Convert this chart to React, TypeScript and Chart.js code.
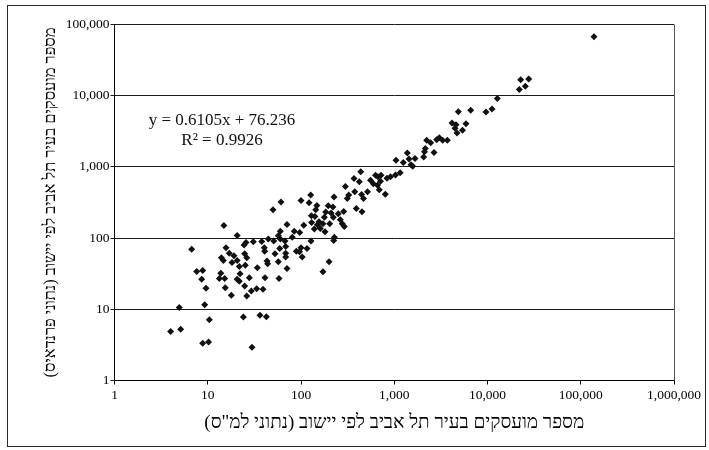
import React, { useEffect, useRef } from 'react';
import { Chart, registerables } from 'chart.js';

Chart.register(...registerables);

const xTickValues = [1, 10, 100, 1000, 10000, 100000, 1000000];
const yTickValues = [1, 10, 100, 1000, 10000, 100000];
const xTitle = 'מספר מועסקים בעיר תל אביב לפי יישוב (נתוני למ"ס)';
const yTitle = 'מספר מועסקים בעיר תל אביב לפי יישוב (נתוני פרנדאיס)';
const trendEquation = 'y = 0.6105x + 76.236';
const trendR2 = 'R² = 0.9926';

// x: employees per settlement (CBS data); y: employees per settlement (other source)
const employeesCbs = [
  14.9, 20.7, 6.73, 25.7, 30.8, 24.5, 15.7, 17.0, 19.1, 24.9, 14.0, 14.7, 18.2, 20.7, 26.2,
  25.3, 21.8, 34.0, 7.61, 8.83, 13.8, 22.2, 8.61, 13.3, 15.2, 20.7, 21.8, 27.9, 9.58, 15.4,
  24.9, 29.3, 33.5, 17.9, 26.2, 4.95, 9.27, 10.4, 24.1, 36.3, 4.0, 5.13, 8.83, 10.2, 29.8,
  37.9, 39.1, 40.4, 40.8, 41.1, 42.5, 43.2, 43.9, 44.6, 50.1, 51.0, 52.6, 57.1, 57.1, 58.1,
  59.1, 60.0, 60.0, 61.0, 67.4, 68.5, 68.5, 68.5, 70.8, 70.8, 80.6, 84.7, 89.1, 96.8, 96.4,
  100, 100, 103, 107, 116, 122, 127, 128, 130, 129, 139, 141, 144, 148, 150,
  156, 161, 172, 172, 178, 181, 184, 196, 200, 203, 210, 220, 222, 224, 228,
  226, 251, 264, 277, 287, 291,
  299, 314, 325, 370, 377, 392, 422, 437, 446, 468, 451, 517, 556, 596, 661,
  629, 669, 721, 712, 691, 802, 836, 912, 1031, 1158, 1044, 1250, 1380, 1439, 1669,
  1512, 1578, 2153, 2110, 2069, 2669, 2228, 2459, 2852, 3042, 3308, 3706, 4163, 4595, 4482,
  5880, 4710, 5395, 4864, 6603, 9636, 11180, 12740, 21930, 25430, 22700, 27660, 138700,
];
const employeesOther = [
  150, 109, 70.0, 86.7, 88.7, 79.7, 73.0, 61.5, 56.4, 60.1, 52.8, 48.4, 45.4, 48.4, 52.8,
  41.7, 39.9, 38.2, 33.9, 35.0, 32.2, 31.5, 26.5, 27.0, 27.0, 26.5, 24.8, 27.7, 19.8, 20.0,
  21.3, 18.0, 19.5, 15.8, 15.4, 10.6, 11.6, 7.16, 7.82, 8.26, 4.86, 5.25, 3.34, 3.48, 2.93,
  89.6, 19.2, 73.0, 65.6, 27.7, 7.89, 47.5, 43.5, 96.8, 250, 90.7, 60.1, 108, 46.4, 27.0,
  71.4, 125, 96.8, 321, 90.7, 76.2, 61.5, 54.1, 155, 37.4, 103, 125, 65.6, 120, 64.2,
  338, 73.0, 54.1, 152, 71.4, 314, 402, 90.7, 166, 206, 134, 201, 250, 287, 154,
  170, 136, 159, 33.6, 197, 123, 232, 285, 46.4, 159, 225, 273, 197, 92.5, 103,
  377, 220, 181, 159, 237, 146,
  532, 361, 402, 689, 448, 261, 619, 856, 410, 361, 234, 448, 650, 580, 553,
  764, 728, 764, 629, 478, 413, 694, 728, 769, 829, 1242, 1157, 1568, 1291, 1317,
  1074, 1023, 1820, 1636, 1378, 1599, 2358, 2190, 2413, 2575, 2358, 2374, 4144, 3922, 3502,
  4051, 2999, 3262, 5935, 6231, 5918, 6521, 9104, 12180, 13560, 16690, 17230, 67140,
];

const serif = '"Liberation Serif", "DejaVu Serif", serif';

const decorPlugin = {
  id: 'decor',
  beforeDraw(chart: any) {
    const { ctx, width, height } = chart;
    ctx.save();
    ctx.fillStyle = '#ffffff';
    ctx.fillRect(0, 0, width, height);
    ctx.restore();
  },
  afterDraw(chart: any) {
    const { ctx, chartArea } = chart;
    const { top, right, bottom } = chartArea;
    ctx.save();
    ctx.strokeStyle = '#2a2a2a';
    ctx.lineWidth = 1;
    ctx.strokeRect(7.5, 5.5, 698, 441);
    ctx.strokeStyle = '#555';
    const rx = Math.round(right) + 0.5;
    ctx.beginPath();
    ctx.moveTo(rx, top);
    ctx.lineTo(rx, bottom);
    ctx.stroke();
    ctx.fillStyle = '#111';
    ctx.font = '17px ' + serif;
    ctx.textAlign = 'center';
    ctx.textBaseline = 'middle';
    ctx.fillText(trendEquation, 222, 121);
    ctx.fillText(trendR2, 222, 141);
    ctx.restore();
  },
};

const fmt = (v: any) => Number(v).toLocaleString('en-US');

export default function App() {
  const ref = useRef<HTMLCanvasElement | null>(null);
  useEffect(() => {
    if (!ref.current) return;
    const points = employeesCbs.map((x, i) => ({ x, y: employeesOther[i] }));
    const chart = new Chart(ref.current, {
      type: 'scatter',
      data: {
        datasets: [
          {
            data: points,
            pointStyle: 'rectRot',
            pointRadius: 3.5,
            pointBackgroundColor: '#111',
            pointBorderWidth: 0,
            pointBorderColor: '#111',
          },
        ],
      },
      options: {
        animation: false,
        responsive: false,
        events: [],
        layout: { padding: { top: 24.5, right: 35, bottom: 0, left: 0 } },
        plugins: { legend: { display: false }, tooltip: { enabled: false } },
        scales: {
          x: {
            type: 'logarithmic',
            min: 1,
            max: 1000000,
            afterBuildTicks: (s: any) => {
              s.ticks = xTickValues.map((v) => ({ value: v }));
            },
            afterFit: (s: any) => {
              s.height = 69.5;
            },
            ticks: {
              callback: (v: any) => fmt(v),
              autoSkip: false,
              maxRotation: 0,
              color: '#000',
              padding: 3,
              font: { family: serif, size: 13.5 },
            },
            grid: { drawOnChartArea: false, drawTicks: true, tickLength: 4, color: '#000' },
            border: { display: true, color: '#000', width: 1 },
            title: {
              display: true,
              text: xTitle + '\u200F',
              color: '#000',
              font: { family: serif, size: 19 },
              padding: { top: 0, bottom: 15.5 },
            },
          },
          y: {
            type: 'logarithmic',
            min: 1,
            max: 100000,
            afterBuildTicks: (s: any) => {
              s.ticks = yTickValues.map((v) => ({ value: v }));
            },
            afterFit: (s: any) => {
              s.width = 114.5;
            },
            ticks: {
              callback: (v: any) => fmt(v),
              autoSkip: false,
              color: '#000',
              padding: 1,
              font: { family: serif, size: 13.5 },
            },
            grid: { drawTicks: true, tickLength: 4, color: '#1a1a1a', lineWidth: 1 },
            border: { display: true, color: '#000', width: 1 },
            title: {
              display: true,
              text: yTitle + '\u200F',
              color: '#000',
              font: { family: serif, size: 16.5 },
              padding: { top: 41, bottom: 0 },
            },
          },
        },
      },
      plugins: [decorPlugin],
    });
    return () => chart.destroy();
  }, []);
  return (
    <div style={{ position: 'fixed', left: 0, top: 0, width: 709, height: 450, background: '#fff' }}>
      <canvas ref={ref} width={709} height={450} style={{ width: 709, height: 450 }} />
    </div>
  );
}
